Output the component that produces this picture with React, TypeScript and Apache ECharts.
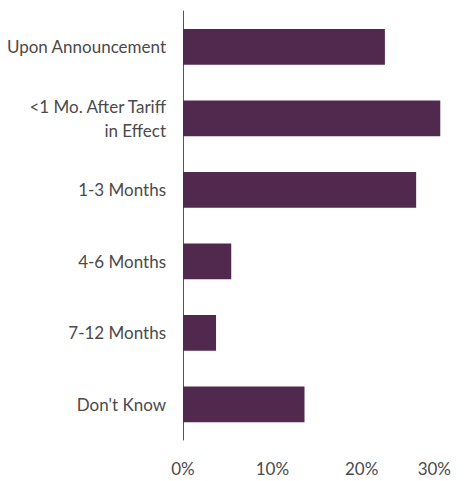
import React, { useEffect, useRef } from "react";
import * as echarts from "echarts";

const categories = [
  "Upon Announcement",
  "<1 Mo. After Tariff\nin Effect",
  "1-3 Months",
  "4-6 Months",
  "7-12 Months",
  "Don't Know",
];
const values = [22.6, 28.8, 26.1, 5.4, 3.7, 13.6];
const xTicks = [0, 10, 20, 30];

const FONT = "Lato, 'DejaVu Sans Condensed', sans-serif";

export default function App() {
  const ref = useRef<HTMLDivElement>(null);
  useEffect(() => {
    if (!ref.current) return;
    const chart = echarts.init(ref.current, undefined, { renderer: "svg" });
    chart.setOption({
      animation: false,
      grid: {
        left: 183,
        right: 20,
        top: 11,
        bottom: 41,
        containLabel: false,
        outerBoundsMode: "none",
      },
      xAxis: {
        type: "value",
        min: xTicks[0],
        max: xTicks[xTicks.length - 1],
        interval: 10,
        axisLine: { show: false },
        axisTick: { show: false },
        splitLine: { show: false },
        axisLabel: {
          formatter: (v: number) => `${v}%`,
          color: "#4a4a4a",
          fontFamily: FONT,
          fontSize: 17,
          margin: 20,
          alignMaxLabel: "right",
        },
      },
      yAxis: {
        type: "category",
        data: categories,
        inverse: true,
        axisLine: { show: true, lineStyle: { color: "#555555", width: 1 } },
        axisTick: { show: false },
        splitLine: { show: false },
        axisLabel: {
          color: "#4a4a4a",
          fontFamily: FONT,
          fontSize: 17,
          lineHeight: 24,
          margin: 17,
          align: "right",
        },
      },
      series: [
        {
          type: "bar",
          data: values,
          barWidth: "50%",
          itemStyle: { color: "#52294e" },
        },
      ],
    });
    return () => chart.dispose();
  }, []);
  return (
    <div
      ref={ref}
      style={{ position: "fixed", left: 0, top: 0, width: 471, height: 481, background: "#fff" }}
    />
  );
}
